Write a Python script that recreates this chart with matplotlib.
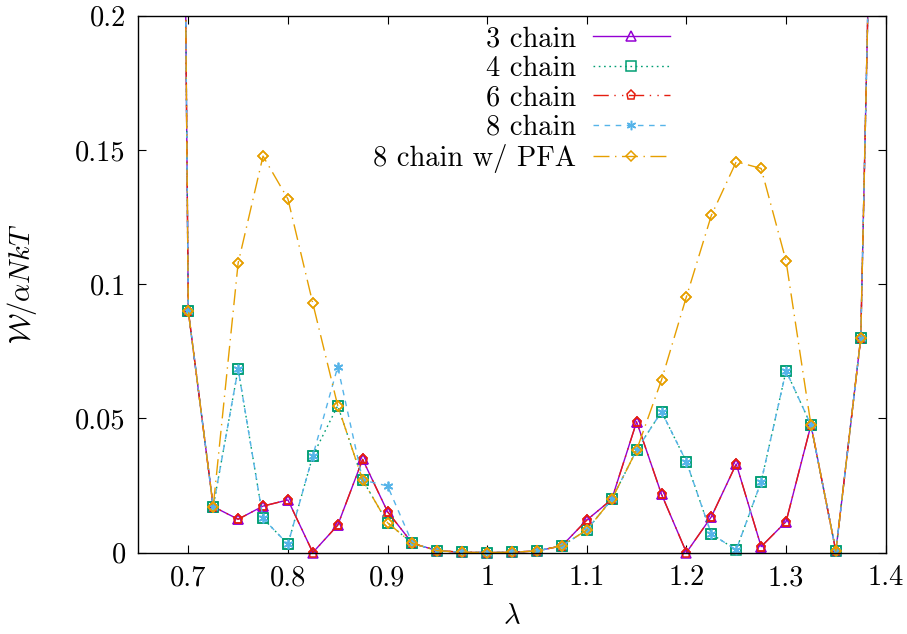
import numpy as np
import matplotlib.pyplot as plt
from matplotlib.ticker import FormatStrFormatter

plt.rcParams['font.family'] = 'serif'
plt.rcParams['font.serif'] = ['cmr10']
plt.rcParams['mathtext.fontset'] = 'cm'
plt.rcParams['axes.formatter.use_mathtext'] = True

# stretch values (lambda) and strain energy W / alpha N k T
lam = [0.675, 0.7, 0.725, 0.75, 0.775, 0.8, 0.825, 0.85, 0.875, 0.9,
       0.925, 0.95, 0.975, 1.0, 1.025, 1.05, 1.075, 1.1, 1.125, 1.15,
       1.175, 1.2, 1.225, 1.25, 1.275, 1.3, 1.325, 1.35, 1.375, 1.4]

chain3 = [1.15, 0.090, 0.0171, 0.0124, 0.0173, 0.0196, 0.0, 0.0102, 0.0347, 0.0152,
          0.0034, 0.0007, 0.0001, 0.0, 0.0001, 0.0006, 0.0025, 0.0121, 0.0198, 0.0487,
          0.0217, 0.0, 0.0133, 0.0330, 0.0022, 0.0115, 0.0475, 0.0005, 0.080, 0.51]
chain4 = [1.15, 0.090, 0.0171, 0.0684, 0.0127, 0.0031, 0.0361, 0.0547, 0.0270, 0.0111,
          0.0034, 0.0007, 0.0001, 0.0, 0.0001, 0.0006, 0.0025, 0.0084, 0.0198, 0.0382,
          0.0525, 0.0338, 0.0069, 0.0010, 0.0264, 0.0677, 0.0475, 0.0005, 0.080, 0.51]
chain6 = [1.15, 0.090, 0.0171, 0.0124, 0.0173, 0.0196, 0.0, 0.0102, 0.0347, 0.0152,
          0.0034, 0.0007, 0.0001, 0.0, 0.0001, 0.0006, 0.0025, 0.0121, 0.0198, 0.0487,
          0.0217, 0.0, 0.0133, 0.0330, 0.0022, 0.0115, 0.0475, 0.0005, 0.080, 0.51]
chain8 = [1.15, 0.090, 0.0171, 0.0684, 0.0127, 0.0031, 0.0361, 0.0692, 0.0270, 0.0248,
          0.0034, 0.0007, 0.0001, 0.0, 0.0001, 0.0006, 0.0025, 0.0084, 0.0198, 0.0382,
          0.0525, 0.0338, 0.0069, 0.0010, 0.0264, 0.0677, 0.0475, 0.0005, 0.080, 0.51]
chain8_pfa = [1.15, 0.090, 0.0171, 0.1078, 0.1477, 0.1317, 0.0928, 0.0547, 0.0270, 0.0111,
              0.0034, 0.0007, 0.0001, 0.0, 0.0001, 0.0006, 0.0025, 0.0084, 0.0198, 0.0382,
              0.0643, 0.0953, 0.1256, 0.1456, 0.1431, 0.1086, 0.0475, 0.0005, 0.080, 0.51]

series = [
    ("3 chain", chain3, '#9400d3', '-', '^'),
    ("4 chain", chain4, '#009e73', (0, (1.2, 2.6)), 's'),
    ("6 chain", chain6, '#e51e10', (0, (11, 4, 1, 4.5, 1, 4)), 'p'),
    ("8 chain", chain8, '#56b4e9', (0, (4, 4)), (6, 2, 0)),
    ("8 chain w/ PFA", chain8_pfa, '#e69f00', (0, (11.5, 4, 1, 4)), 'D'),
]

fig = plt.figure(figsize=(9.07, 6.34), dpi=100)
ax = fig.add_axes([0.1527, 0.1285, 0.8238, 0.8467])

x = np.array(lam)
for label, vals, col, ls, mk in series:
    y = np.array(vals)
    ms = 5.2 if mk == 'D' else 6.8
    ax.plot(x, y, color=col, ls=ls, lw=1.0, marker=mk, ms=ms,
            mfc='none', mec=col, mew=1.1, label=label)
    # gnuplot draws point symbols on the border unclipped
    keep = (y <= 0.2) & (x >= 0.65) & (x <= 1.4)
    ax.plot(x[keep], y[keep], ls='none', marker=mk, ms=ms,
            mfc='none', mec=col, mew=1.1, clip_on=False)

ax.set_xlim(0.65, 1.4)
ax.set_ylim(0, 0.2)
ax.set_xticks(np.arange(0.7, 1.41, 0.1))
ax.set_yticks(np.arange(0, 0.201, 0.05))
ax.xaxis.set_major_formatter(FormatStrFormatter('%g'))
ax.yaxis.set_major_formatter(FormatStrFormatter('%g'))
ax.tick_params(direction='in', length=6, width=0.8, top=True, right=True,
               labelsize=20.5, pad=9)
for sp in ax.spines.values():
    sp.set_linewidth(1.0)

ax.set_xlabel(r'$\lambda$', fontsize=20.5, labelpad=9)
ax.set_ylabel(r'$\mathcal{W}/\alpha NkT$', fontsize=20.5, labelpad=26)

ax.legend(loc='upper right', bbox_to_anchor=(0.711, 0.981), frameon=False,
          markerfirst=False, fontsize=20.5, handlelength=2.7, handletextpad=0.6,
          labelspacing=0.11, numpoints=1, borderpad=0, borderaxespad=0)

fig.savefig('out.png', dpi=100)
